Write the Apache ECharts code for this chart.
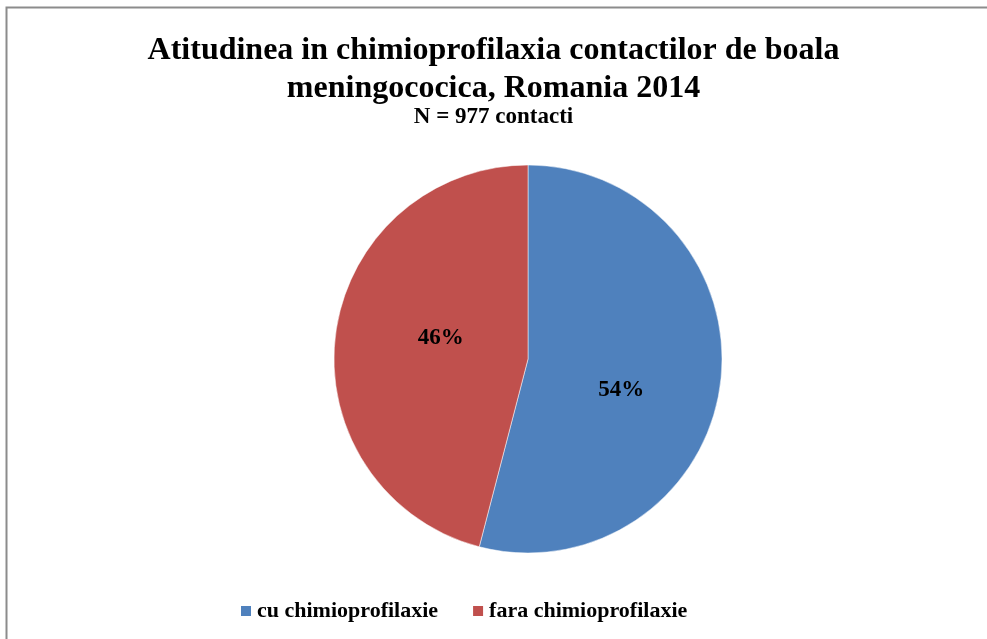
<!DOCTYPE html>
<html>
<head>
<meta charset="utf-8">
<title>Atitudinea in chimioprofilaxia contactilor</title>
<script src="https://cdn.jsdelivr.net/npm/echarts@6/dist/echarts.min.js"></script>
<style>
  html, body { margin: 0; padding: 0; background: #fff; }
  #chart { width: 987px; height: 639px; }
</style>
</head>
<body>
<div id="chart"></div>
<script>
// categories and counts (N = 977)
const categories = ['cu chimioprofilaxie', 'fara chimioprofilaxie'];
const counts = [528, 449];
const colors = ['#4F81BD', '#C0504D'];
// nudge of the inside labels, like the Excel best-fit placement
const labelOffsets = [[-6, 18], [12, -8]];

const serif = '"Liberation Serif", "Times New Roman", serif';

const chart = echarts.init(document.getElementById('chart'));

const option = {
  backgroundColor: '#fff',
  animation: false,
  graphic: [
    {
      // chart frame, cut off on the right and bottom
      type: 'rect',
      shape: { x: 6.5, y: 7.5, width: 1100, height: 800 },
      style: { fill: 'none', stroke: '#8c8c8c', lineWidth: 2 },
      silent: true
    }
  ],
  title: [
    {
      text: 'Atitudinea in chimioprofilaxia contactilor de boala\nmeningococica, Romania 2014',
      left: 'center',
      top: 27,
      textStyle: {
        fontFamily: serif,
        fontWeight: 'bold',
        fontSize: 32,
        lineHeight: 38,
        color: '#000'
      }
    },
    {
      text: 'N = 977 contacti',
      left: 'center',
      top: 101,
      textStyle: {
        fontFamily: serif,
        fontWeight: 'bold',
        fontSize: 23,
        color: '#000'
      }
    }
  ],
  legend: {
    bottom: 12,
    left: 234,
    itemWidth: 12,
    itemHeight: 12,
    itemGap: 33,
    icon: 'rect',
    textStyle: {
      fontFamily: serif,
      fontWeight: 'bold',
      fontSize: 22,
      color: '#000'
    },
    data: categories
  },
  series: [
    {
      type: 'pie',
      center: [528, 359],
      radius: 194,
      startAngle: 90,
      clockwise: true,
      itemStyle: { borderColor: '#fff', borderWidth: 0.5 },
      label: {
        position: 'inside',
        formatter: (p) => Math.round(p.percent) + '%',
        fontFamily: serif,
        fontWeight: 'bold',
        fontSize: 23,
        color: '#000'
      },
      labelLine: { show: false },
      emphasis: { disabled: true },
      data: categories.map((name, i) => ({
        name,
        value: counts[i],
        itemStyle: { color: colors[i] },
        label: { offset: labelOffsets[i] }
      }))
    }
  ]
};

chart.setOption(option);
</script>
</body>
</html>
